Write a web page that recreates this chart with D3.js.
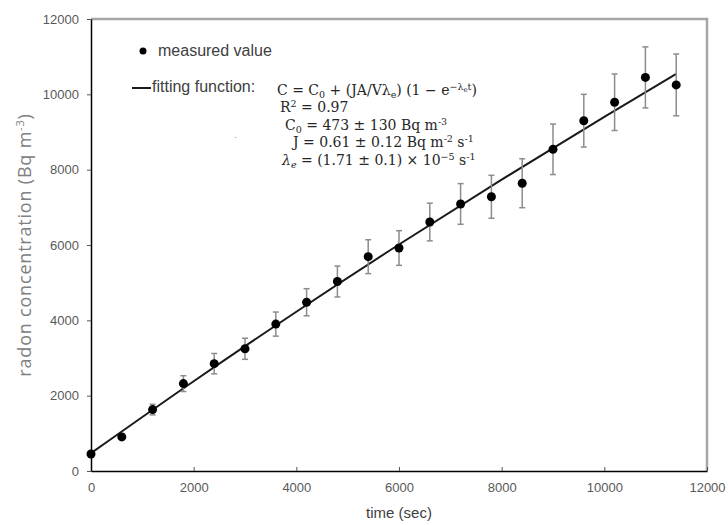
<!DOCTYPE html>
<html>
<head>
<meta charset="utf-8">
<script src="https://cdn.jsdelivr.net/npm/d3@7"></script>
<style>
  body { margin: 0; background: #fff; }
  text { font-family: "Liberation Sans", Arial, sans-serif; }
  .eq text { font-family: "DejaVu Serif", "Liberation Serif", serif; }
</style>
</head>
<body>
<svg></svg>
<script>
var width = 728, height = 525;
var margin = {top: 19, right: 21, bottom: 54, left: 91};

// measured radon concentration (Bq m-3) every 600 s
var times = [0, 600, 1200, 1800, 2400, 3000, 3600, 4200, 4800, 5400,
             6000, 6600, 7200, 7800, 8400, 9000, 9600, 10200, 10800, 11400];
var measured = [450, 905, 1630, 2320, 2850, 3245, 3900, 4480, 5030, 5690,
                5920, 6610, 7090, 7280, 7640, 8540, 9300, 9790, 10450, 10250];
var errors = [30, 70, 140, 210, 270, 280, 320, 360, 410, 450,
              460, 500, 540, 570, 650, 670, 700, 750, 810, 820];

// fitted curve
var fitTimes = [0, 2000, 4000, 6000, 8000, 10000, 11400];
var fitValues = [473, 2383, 4229, 6013, 7736, 9403, 10540];

var xTicks = [0, 2000, 4000, 6000, 8000, 10000, 12000];
var yTicks = [0, 2000, 4000, 6000, 8000, 10000, 12000];

var svg = d3.select('svg').attr('width', width).attr('height', height);

var x = d3.scaleLinear().domain([0, 12000]).range([margin.left, width - margin.right]);
var y = d3.scaleLinear().domain([0, 12000]).range([height - margin.bottom, margin.top]);

// frame (top and right)
svg.append('path')
  .attr('d', 'M' + x(0) + ',' + y(12000) + 'H' + x(12000) + 'V' + y(0))
  .attr('fill', 'none')
  .attr('stroke', '#a6a6a6')
  .attr('stroke-width', 2.5);

// axes
var xAxis = svg.append('g')
  .attr('transform', 'translate(0,' + y(0) + ')')
  .call(d3.axisBottom(x).tickValues(xTicks).tickSizeInner(-4).tickSizeOuter(0).tickPadding(12).tickFormat(d3.format('d')));
var yAxis = svg.append('g')
  .attr('transform', 'translate(' + x(0) + ',0)')
  .call(d3.axisLeft(y).tickValues(yTicks).tickSizeInner(4).tickSizeOuter(0).tickPadding(8).tickFormat(d3.format('d')));

[xAxis, yAxis].forEach(function(a) {
  a.select('.domain').attr('stroke', '#000').attr('stroke-width', 1.5);
  a.selectAll('.tick line').attr('stroke', '#555');
  a.selectAll('.tick text')
    .attr('fill', '#595959')
    .style('font-size', '13px')
    .style('font-family', '"Liberation Sans", Arial, sans-serif');
});

// axis titles
svg.append('text')
  .attr('x', (x(0) + x(12000)) / 2)
  .attr('y', 518)
  .attr('text-anchor', 'middle')
  .attr('fill', '#404040')
  .style('font-size', '15px')
  .text('time (sec)');

var yt = svg.append('text')
  .attr('transform', 'translate(31,' + ((y(0) + y(12000)) / 2) + ') rotate(-90)')
  .attr('text-anchor', 'middle')
  .attr('fill', '#808080')
  .style('font-family', '"Open Sans", sans-serif')
  .style('letter-spacing', '0.8px')
  .style('font-size', '18px');
yt.append('tspan').text('radon concentration (Bq m');
yt.append('tspan').attr('dy', -7).style('font-size', '11px').text('-3');
yt.append('tspan').attr('dy', 7).text(')');

// fit curve
var line = d3.line()
  .x(function(d, i) { return x(fitTimes[i]); })
  .y(function(d) { return y(d); })
  .curve(d3.curveMonotoneX);

svg.append('path')
  .datum(fitValues)
  .attr('d', line)
  .attr('fill', 'none')
  .attr('stroke', '#1a1a1a')
  .attr('stroke-width', 2);

// error bars
var eb = svg.append('g').attr('stroke', '#8c8c8c').attr('stroke-width', 1.5);
times.forEach(function(t, i) {
  var lo = measured[i] - errors[i], hi = measured[i] + errors[i];
  eb.append('line').attr('x1', x(t)).attr('x2', x(t)).attr('y1', y(lo)).attr('y2', y(hi));
  eb.append('line').attr('x1', x(t) - 3).attr('x2', x(t) + 3).attr('y1', y(lo)).attr('y2', y(lo));
  eb.append('line').attr('x1', x(t) - 3).attr('x2', x(t) + 3).attr('y1', y(hi)).attr('y2', y(hi));
});

// points
svg.append('g')
  .selectAll('circle')
  .data(measured)
  .enter()
  .append('circle')
  .attr('cx', function(d, i) { return x(times[i]); })
  .attr('cy', function(d) { return y(d); })
  .attr('r', 4.5)
  .attr('fill', '#000');

// legend
svg.append('circle').attr('cx', 143).attr('cy', 51).attr('r', 3.5).attr('fill', '#000');
svg.append('text').attr('x', 158).attr('y', 56).attr('fill', '#404040')
  .style('font-size', '16px').text('measured value');
svg.append('line').attr('x1', 132).attr('x2', 151).attr('y1', 88).attr('y2', 88)
  .attr('stroke', '#1a1a1a').attr('stroke-width', 2);
svg.append('text').attr('x', 152).attr('y', 92).attr('fill', '#404040')
  .style('font-size', '16px').text('fitting function:');

// equation block: each row is a list of [text, shift] pieces
var SUB = 1, SUP = -1, SUPSUB = 2;
var eqRows = [
  {x: 277, y: 95, parts: [['C = C', 0], ['0', SUB], [' + (JA/V\u03BB', 0], ['e', SUB], [') (1 \u2212 e', 0], ['\u2212\u03BB', SUP], ['e', SUPSUB], ['t', SUP], [')', 0]]},
  {x: 280, y: 112, parts: [['R', 0], ['2', SUP], [' = 0.97', 0]]},
  {x: 285, y: 130, parts: [['C', 0], ['0', SUB], [' = 473 \u00B1 130  Bq m', 0], ['-3', SUP]]},
  {x: 293, y: 147, parts: [['J = 0.61 \u00B1 0.12  Bq m', 0], ['-2', SUP], [' s', 0], ['-1', SUP]]},
  {x: 282, y: 165, parts: [['\u03BB', 0, 'italic'], ['e', SUB, 'italic'], [' = (1.71 \u00B1 0.1) \u00D7 10', 0], ['\u22125', SUP], [' s', 0], ['-1', SUP]]}
];

var eq = svg.append('g').attr('class', 'eq');
eqRows.forEach(function(row) {
  var t = eq.append('text').attr('x', row.x).attr('y', row.y)
    .attr('fill', '#262626').style('font-size', '14px');
  var cur = 0;
  row.parts.forEach(function(p) {
    var target = p[1] === SUB ? 3 : p[1] === SUP ? -5 : p[1] === SUPSUB ? -3 : 0;
    var ts = t.append('tspan').attr('dy', target - cur).text(p[0]);
    if (p[1] !== 0) ts.style('font-size', p[1] === SUPSUB ? '7px' : '9.5px');
    if (p[2]) ts.style('font-style', p[2]);
    cur = target;
  });
});

// stray dot from the original figure
svg.append('text').attr('x', 234).attr('y', 138).attr('fill', '#999')
  .style('font-size', '10px').text('.');
</script>
</body>
</html>
